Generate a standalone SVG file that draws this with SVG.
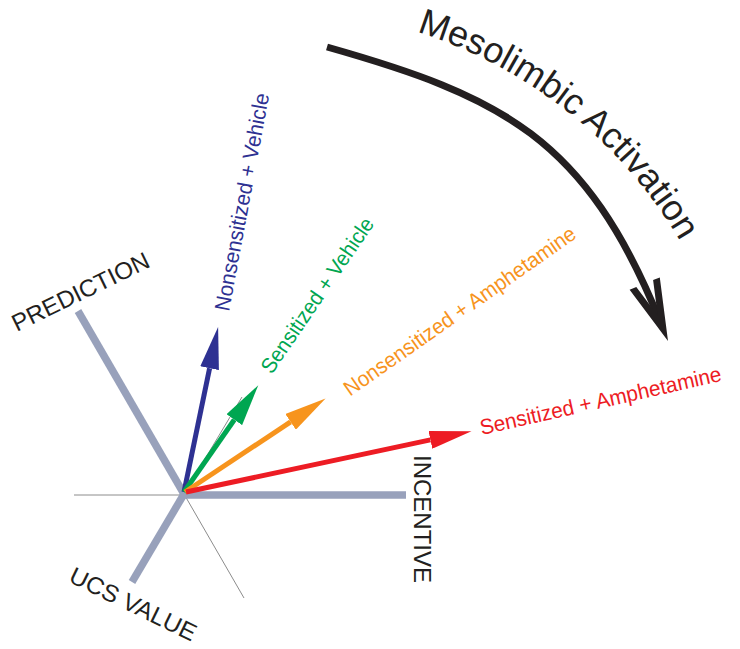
<svg xmlns="http://www.w3.org/2000/svg" width="740" height="649" viewBox="0 0 740 649">
  <style>
    .axis { stroke: #98a1bb; stroke-width: 7.5; stroke-linecap: butt; fill: none; }
    .thin { stroke: #8c8c8c; stroke-width: 1; fill: none; }
    .vec { stroke-width: 5; fill: none; stroke-linecap: butt; }
    .lbl { font-family: "Liberation Sans", Arial, Helvetica, sans-serif; font-size: 21.5px; }
    .ax { font-family: "Liberation Sans", Arial, Helvetica, sans-serif; font-size: 24px; fill: #231f20; }
    .meso { font-family: "Liberation Sans", Arial, Helvetica, sans-serif; font-size: 36px; fill: #231f20; }
  </style>
  <defs>
    <marker id="hBlue" markerUnits="userSpaceOnUse" markerWidth="42" markerHeight="19" viewBox="0 0 42 19" refX="0" refY="9.5" orient="auto"><path d="M0,0 L42,9.5 L0,19 z" fill="#2e3192"/></marker>
    <marker id="hGreen" markerUnits="userSpaceOnUse" markerWidth="42" markerHeight="19" viewBox="0 0 42 19" refX="0" refY="9.5" orient="auto"><path d="M0,0 L42,9.5 L0,19 z" fill="#00a651"/></marker>
    <marker id="hOrange" markerUnits="userSpaceOnUse" markerWidth="42" markerHeight="19" viewBox="0 0 42 19" refX="0" refY="9.5" orient="auto"><path d="M0,0 L42,9.5 L0,19 z" fill="#f7941d"/></marker>
    <marker id="hRed" markerUnits="userSpaceOnUse" markerWidth="42" markerHeight="18" viewBox="0 0 42 18" refX="0" refY="9" orient="auto"><path d="M0,0 L42,9 L0,18 z" fill="#ed1c24"/></marker>
    <path id="mesoPath" d="M416.7,31.7 A468.4,468.4 0 0,1 700.7,280.5" fill="none"/>
  </defs>

  <rect width="740" height="649" fill="#ffffff"/>

  <g id="negative-axes">
    <line class="thin" x1="74" y1="495" x2="184" y2="495"/>
    <line class="thin" x1="184" y1="494" x2="244" y2="598"/>
    <line class="thin" x1="184" y1="494" x2="242" y2="397"/>
  </g>

  <g id="axis-prediction">
    <line class="axis" x1="184" y1="494" x2="78" y2="311"/>
    <text class="ax" transform="translate(16.7,332) rotate(-26)" textLength="150" lengthAdjust="spacingAndGlyphs">PREDICTION</text>
  </g>
  <g id="axis-incentive">
    <line class="axis" x1="181" y1="495" x2="406" y2="495"/>
    <text class="ax" transform="translate(414,455) rotate(90)" textLength="128" lengthAdjust="spacingAndGlyphs">INCENTIVE</text>
  </g>
  <g id="axis-ucs-value">
    <line class="axis" x1="184" y1="494" x2="132" y2="582"/>
    <text class="ax" transform="translate(67.6,581.3) rotate(26)" textLength="138" lengthAdjust="spacingAndGlyphs">UCS VALUE</text>
  </g>

  <g id="connectors">
    <line class="vec" stroke="#2e3192" x1="184" y1="492" x2="209.6" y2="368.2" marker-end="url(#hBlue)"/>
    <line class="vec" stroke="#00a651" x1="184" y1="492" x2="234.3" y2="419.7" marker-end="url(#hGreen)"/>
    <line class="vec" stroke="#f7941d" x1="185" y1="492" x2="290.6" y2="421.8" marker-end="url(#hOrange)"/>
    <line class="vec" stroke="#ed1c24" x1="186" y1="492" x2="430.4" y2="439.9" marker-end="url(#hRed)"/>
    <g id="mesolimbic-arrow">
      <path d="M327,47 C500,96 586,137 660.5,322.5" fill="none" stroke="#231f20" stroke-width="7"/>
      <polygon points="668,341 659.8,277.4 653.1,280.1 657.7,315.5 636.3,286.9 629.6,289.7" fill="#231f20"/>
    </g>
  </g>

  <g id="label-nonsensitized-vehicle">
    <text class="lbl" fill="#2e3192" transform="translate(229,312) rotate(-79.5)" textLength="221" lengthAdjust="spacingAndGlyphs">Nonsensitized + Vehicle</text>
  </g>
  <g id="label-sensitized-vehicle">
    <text class="lbl" fill="#00a651" transform="translate(271.7,375) rotate(-55.7)" textLength="183" lengthAdjust="spacingAndGlyphs">Sensitized + Vehicle</text>
  </g>
  <g id="label-nonsensitized-amphetamine">
    <text class="lbl" fill="#f7941d" transform="translate(350,396.7) rotate(-35)" textLength="278" lengthAdjust="spacingAndGlyphs">Nonsensitized + Amphetamine</text>
  </g>
  <g id="label-sensitized-amphetamine">
    <text class="lbl" fill="#ed1c24" transform="translate(481.7,435) rotate(-12.7)" textLength="247" lengthAdjust="spacingAndGlyphs">Sensitized + Amphetamine</text>
  </g>
  <g id="label-mesolimbic">
    <text class="meso"><textPath href="#mesoPath">Mesolimbic Activation</textPath></text>
  </g>
</svg>
